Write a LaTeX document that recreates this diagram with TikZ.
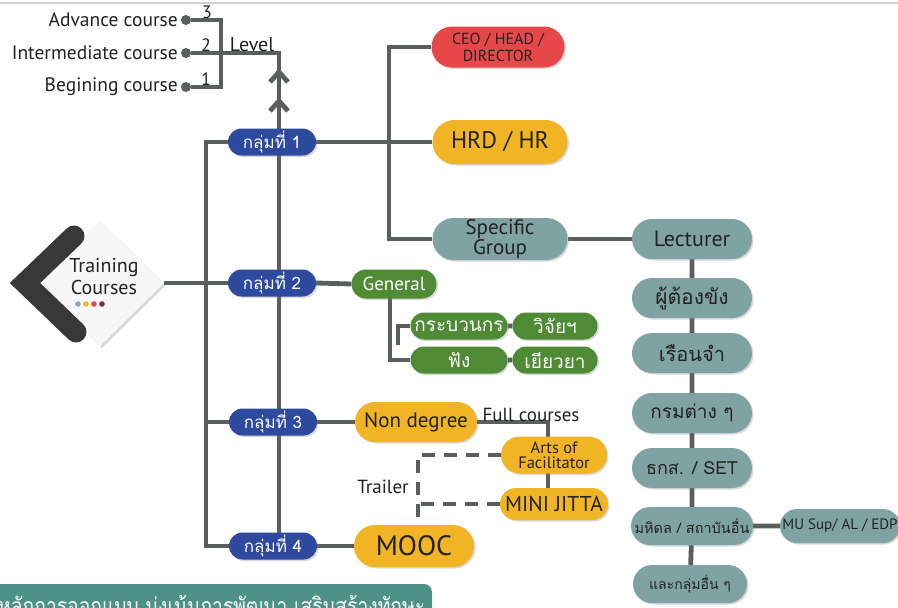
\documentclass[tikz,border=0pt]{standalone}
\usepackage{fontspec}
\setmainfont{PT Sans}
\newfontfamily\thai[Script=Thai]{Loma}
\usetikzlibrary{shapes.misc,shadows,backgrounds}
\definecolor{ln}{HTML}{5A5E5D}
\definecolor{grpblue}{HTML}{2E4A9E}
\definecolor{ceored}{HTML}{E8474A}
\definecolor{gold}{HTML}{F1B425}
\definecolor{tealbox}{HTML}{7FA3A2}
\definecolor{grn}{HTML}{4F8A34}
\definecolor{bannercol}{HTML}{4E9189}
\definecolor{txt}{HTML}{222222}
\definecolor{dotblue}{HTML}{8AA5B5}
\definecolor{dotpurple}{HTML}{8B2252}
\tikzset{
  conn/.style={draw=ln, line width=4.8pt},
  dashconn/.style={draw=ln, line width=4.8pt, dash pattern=on 13pt off 9pt},
  pill/.style={rounded rectangle, inner sep=0pt, align=center, text=txt,
    drop shadow={opacity=0.3, shadow xshift=1.5pt, shadow yshift=-1.5pt}},
  grp/.style={pill, fill=grpblue, text=white, minimum width=88pt, minimum height=27pt,
    font=\thai\fontsize{17}{17}\selectfont},
  gbox/.style={pill, fill=grn, text=white, minimum height=27pt},
  ybox/.style={pill, fill=gold},
  tbox/.style={pill, fill=tealbox},
  lvl/.style={anchor=east, text=txt, font=\fontsize{19.5}{19.5}\selectfont, inner sep=0pt},
  num/.style={text=txt, font=\fontsize{18}{18}\selectfont, inner sep=0pt},
  dot/.style={circle, fill=ln, minimum size=10pt, inner sep=0pt},
}
\begin{document}
\begin{tikzpicture}[x=1pt,y=-1pt]
\useasboundingbox (0,0) rectangle (898,608);
\clip (0,0) rectangle (898,608);

% level
\node[dot] (d3) at (186,20) {};
\node[dot] (d2) at (186,53) {};
\node[dot] (d1) at (186,87) {};
\node[lvl] (l3) at (178,20) {Advance course};
\node[lvl] (l2) at (178,53) {Intermediate course};
\node[lvl] (l1) at (178,87) {Begining course};
\node[num] (n3) at (207,12) {3};
\node[num] (n2) at (206,45) {2};
\node[num] (n1) at (206,79) {1};
\node[num, font=\fontsize{20}{20}\selectfont] (lv) at (252,45) {Level};

% training courses
\fill[black!3, drop shadow={opacity=0.3, shadow xshift=2pt, shadow yshift=-2pt}]
  (37,283) -- (100,221) -- (164,283) -- (100,346) -- cycle;
\draw[draw=black!78, line width=21pt, line cap=round, line join=miter]
  (74,236) -- (25,283) -- (76,332);
\node[inner sep=0pt, align=center, text=txt, font=\fontsize{20}{22}\selectfont] (tc) at (104,277) {Training\\Courses};
\coordinate (tcr) at (164,283);
\fill[dotblue] (78,304) circle (2.8pt);
\fill[gold] (86,304) circle (2.8pt);
\fill[ceored] (94,304) circle (2.8pt);
\fill[dotpurple] (102,304) circle (2.8pt);

% groups
\node[grp] (g1) at (272,142) {กลุ่มที่ 1};
\node[grp] (g2) at (272,283) {กลุ่มที่ 2};
\node[grp] (g3) at (273,422) {กลุ่มที่ 3};
\node[grp] (g4) at (273,546) {กลุ่มที่ 4};

% group 1
\node[pill, fill=ceored, minimum width=133pt, minimum height=41pt, font=\fontsize{16}{17}\selectfont] (ceo) at (498,47) {CEO / HEAD /\\DIRECTOR};
\node[ybox, minimum width=135pt, minimum height=44pt, font=\fontsize{24}{24}\selectfont] (hrd) at (500,142) {HRD / HR};
\node[tbox, minimum width=135pt, minimum height=42pt, font=\fontsize{21}{19}\selectfont] (spec) at (500,239) {Specific\\Group};
\node[tbox, minimum width=120pt, minimum height=40pt, font=\fontsize{22}{22}\selectfont] (lect) at (692,239) {Lecturer};
\node[tbox, minimum width=120pt, minimum height=40pt, font=\thai\fontsize{21}{21}\selectfont] (c2) at (692,298) {ผู้ต้องขัง};
\node[tbox, minimum width=120pt, minimum height=40pt, font=\thai\fontsize{20}{20}\selectfont] (c3) at (692,353) {เรือนจำ};
\node[tbox, minimum width=120pt, minimum height=40pt, font=\thai\fontsize{19}{19}\selectfont] (c4) at (692,413) {กรมต่าง ๆ};
\node[tbox, minimum width=120pt, minimum height=40pt, font=\thai\fontsize{18}{18}\selectfont] (c5) at (692,468) {ธกส. / SET};
\node[tbox, minimum width=122pt, minimum height=38pt, font=\thai\fontsize{14.5}{14.5}\selectfont] (c6) at (692,526) {มหิดล / สถาบันอื่น};
\node[tbox, minimum width=114pt, minimum height=38pt, font=\thai\fontsize{14}{14}\selectfont] (c7) at (690,584) {และกลุ่มอื่น ๆ};
\node[tbox, minimum width=120pt, minimum height=34pt, font=\fontsize{15}{15}\selectfont] (mu) at (840,526) {MU Sup/ AL / EDP};

% group 2
\node[gbox, minimum width=85pt, minimum height=29pt, font=\fontsize{19}{19}\selectfont] (gen) at (394,284) {General};
\node[gbox, minimum width=97pt, font=\thai\fontsize{19}{19}\selectfont] (kb) at (459,326) {กระบวนกร};
\node[gbox, minimum width=97pt, font=\thai\fontsize{19}{19}\selectfont] (fg) at (459,360) {ฟัง};
\node[gbox, minimum width=85pt, font=\thai\fontsize{19}{19}\selectfont] (wj) at (555,326) {วิจัยฯ};
\node[gbox, minimum width=85pt, font=\thai\fontsize{19}{19}\selectfont] (yy) at (555,360) {เยียวยา};

% group 3 / 4
\node[ybox, minimum width=122pt, minimum height=40pt, font=\fontsize{21}{21}\selectfont] (nd) at (416,422) {Non degree};
\node[num, font=\fontsize{19}{19}\selectfont] (fc) at (531,415) {Full courses};
\node[ybox, minimum width=106pt, minimum height=37pt, font=\fontsize{16.5}{15}\selectfont] (arts) at (554,455) {Arts of\\Facilitator};
\node[ybox, minimum width=108pt, minimum height=32pt, font=\fontsize{21.5}{21.5}\selectfont] (mini) at (554,504) {MINI JITTA};
\node[ybox, minimum width=120pt, minimum height=42pt, font=\fontsize{28}{28}\selectfont] (mooc) at (414,546) {MOOC};
\node[num, font=\fontsize{19}{19}\selectfont] (trl) at (383,487) {Trailer};

% connectors
\begin{scope}[on background layer]
\fill[white] (0,0) rectangle (898,608);
\draw[draw=black!18, line width=2pt] (0,3) -- (898,3);
\draw[conn] (d3) -- (221,20) -- (221,87) -- (d1);
\draw[conn] (d2) -- (279,53) -- (279,546);
\draw[conn] (270,82) -- (279,72) -- (288,82);
\draw[conn] (270,111) -- (279,101) -- (288,111);
\draw[conn] (g1.west) -- (206,142) -- (206,546) -- (g4.west);
\draw[conn] (206,422) -- (g3.west);
\draw[conn] (tcr) -- (g2.west);
\draw[conn] (g1.east) -- (hrd.west);
\draw[conn] (ceo.west) -- (389,47) -- (389,239) -- (spec.west);
\draw[conn] (spec.east) -- (lect.west);
\draw[conn] (lect) -- (c2);
\draw[conn] (c2) -- (c3);
\draw[conn] (c3) -- (c4);
\draw[conn] (c4) -- (c5);
\draw[conn] (c5) -- (c6);
\draw[conn] (c6) -- (c7);
\draw[conn] (c6) -- (mu);
\draw[conn] (g2.east) -- (gen.west);
\draw[conn] (390,290) -- (390,360) -- (fg.west);
\draw[conn] (398,345) -- (398,326) -- (kb.west);
\draw[conn] (kb) -- (wj);
\draw[conn] (fg) -- (yy);
\draw[conn] (g3.east) -- (nd.west);
\draw[conn] (g4.east) -- (mooc.west);
\draw[conn] (nd.east) -- (548,422) -- (548,495);
\draw[dashconn] (arts.west) -- (418,455) -- (418,528);
\draw[dashconn] (mini.west) -- (418,504);
\end{scope}

% banner
\fill[bannercol, rounded corners=8pt] (-10,584) rectangle (432,640);
\node[anchor=base west, inner sep=0pt, text=white, font=\thai\fontsize{23}{23}\selectfont] (ban) at (-2,614) {\resizebox{427pt}{\height}{หลักการออกแบบ มุ่งเน้นการพัฒนา เสริมสร้างทักษะ}};
\end{tikzpicture}
\end{document}
